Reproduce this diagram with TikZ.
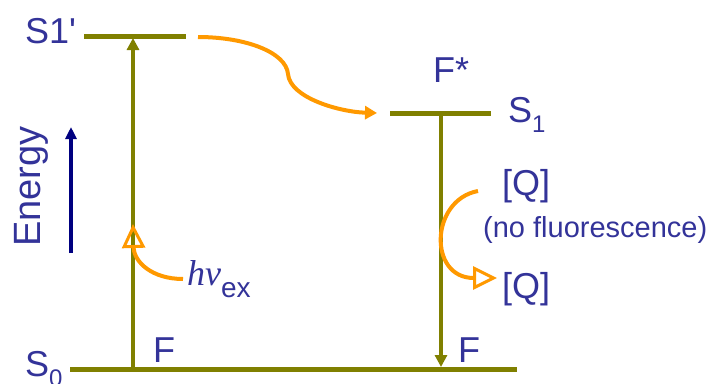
\documentclass[tikz,border=0pt]{standalone}
\usepackage{fontspec}
\setmainfont{Liberation Sans}
\newfontfamily\timesfont{Liberation Serif}
\usetikzlibrary{arrows.meta}

\definecolor{levelolive}{HTML}{808000}
\definecolor{photonorange}{HTML}{FF9900}
\definecolor{labelblue}{HTML}{333399}
\definecolor{energynavy}{HTML}{000080}

\newcommand{\lowsub}[1]{\raisebox{-0.28em}{\fontsize{24}{24}\selectfont #1}}

\begin{document}
\begin{tikzpicture}[x=1pt, y=-1pt]

  % Styles
  \tikzset{
    level/.style={draw=levelolive, line width=5pt},
    transition/.style={draw=levelolive, line width=3.5pt, -{Triangle[length=12pt,width=12pt]}},
    photon/.style={draw=photonorange, line width=4pt},
    openhead/.style={-{Triangle[open, length=24pt, width=23pt, line width=3pt]}},
    lbl/.style={text=labelblue, inner sep=0pt, anchor=base west, font=\fontsize{36}{36}\selectfont}
  }

  \useasboundingbox (0,0) rectangle (712,383);

  % --- Energy levels ---
  \coordinate (SonepL) at (84,36);
  \coordinate (SonepR) at (186,36);
  \coordinate (SoneL) at (390,113);
  \coordinate (SoneR) at (491,113);
  \coordinate (SzeroL) at (70,369);
  \coordinate (SzeroR) at (517,369);
  \draw[level] (SonepL) -- (SonepR);
  \draw[level] (SoneL) -- (SoneR);
  \draw[level] (SzeroL) -- (SzeroR);

  % Level labels
  \node[lbl] (lblSonep) at (25,43) {S1\textquotesingle};
  \node[lbl] (lblSone) at (508,122) {S\lowsub{1}};
  \node[lbl] (lblSzero) at (25,376) {S\lowsub{0}};
  \node[lbl] (lblFstar) at (433,82) {F*};
  \node[lbl] (lblFa) at (153,362) {F};
  \node[lbl] (lblFb) at (458,362) {F};

  % --- Transitions ---
  \coordinate (exBot) at (133,369);
  \coordinate (exTop) at (133,38);
  \coordinate (deTop) at (441,113);
  \coordinate (deBot) at (441,367);
  \draw[transition] (exBot) -- (exTop);
  \draw[transition] (deTop) -- (deBot);

  % Energy axis
  \node[lbl, rotate=90, font=\fontsize{38}{38}\selectfont] (lblEnergy) at (40,247) {Energy};
  \coordinate (enBot) at (71,253);
  \coordinate (enTop) at (71,127);
  \draw[draw=energynavy, line width=3.5pt, -{Triangle[length=12pt,width=11pt]}] (enBot) -- (enTop);

  % --- Excitation photon ---
  \node[lbl] (lblHv) at (187,285) {{\timesfont\itshape hν}\raisebox{-0.36em}{\fontsize{28}{28}\selectfont ex}};
  \coordinate (hvStart) at (183,279);
  \coordinate (hvTip) at (133,224);
  \draw[photon, openhead]
    (hvStart) .. controls (152,279) and (134,262) .. (hvTip);

  % --- Relaxation S1' -> S1 ---
  \coordinate (relStart) at (198,37);
  \coordinate (relKink) at (288,74);
  \coordinate (relEnd) at (377,113);
  \draw[photon, -{Triangle[length=12pt, width=13pt]}]
    (relStart) .. controls (245,37) and (286,52) .. (relKink)
    .. controls (290,98) and (340,112) .. (relEnd);

  % --- Quenching ---
  \node[lbl] (lblQa) at (502,195) {[Q]};
  \node[lbl, font=\fontsize{29}{29}\selectfont] (lblNoFl) at (483,237) {(no fluorescence)};
  \node[lbl] (lblQb) at (502,298) {[Q]};
  \coordinate (qStart) at (478,191);
  \coordinate (qTip) at (497,278);
  \draw[photon, openhead]
    (qStart) .. controls (430,200) and (428,278) .. (qTip);

\end{tikzpicture}
\end{document}
